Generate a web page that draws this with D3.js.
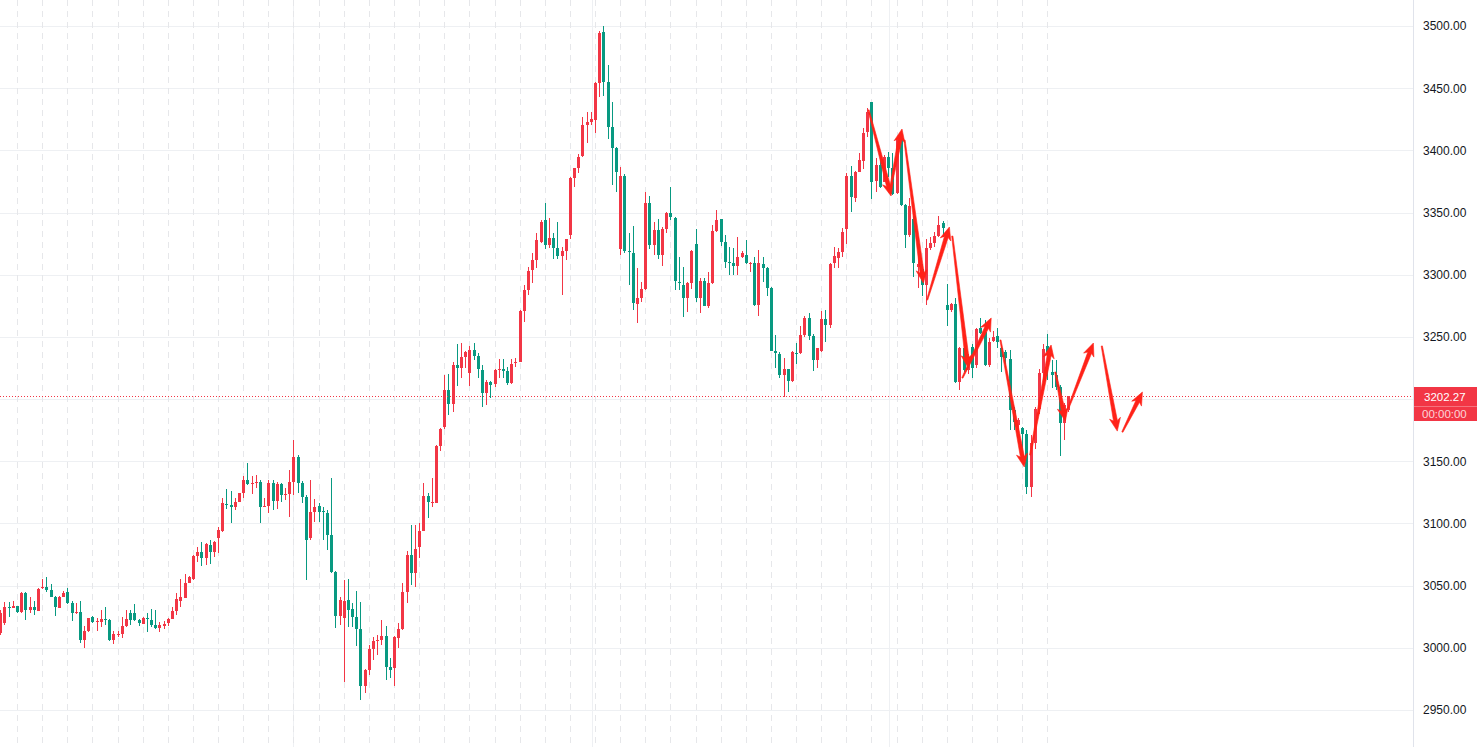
<!DOCTYPE html>
<html>
<head>
<meta charset="utf-8">
<script src="https://cdn.jsdelivr.net/npm/d3@7/dist/d3.min.js"></script>
<style>
  html, body { margin: 0; padding: 0; background: #ffffff; }
  svg { display: block; }
</style>
</head>
<body>
<svg id="chart" width="1478" height="747"></svg>
<script>
// ---------------- DATA ----------------
const open = [
3011.6,3019.7,3033.1,3032.3,3033.9,3029.1,3044.3,3030.4,3033.1,3029.9,
3047.8,3049.2,3046.5,3041.1,3032.3,3041.1,3045.1,3035.8,3028.3,3028.5,
3006.3,3013.5,3025.0,3021.6,3021.0,3023.2,3022.4,3006.3,3010.3,3011.1,
3017.8,3028.3,3028.3,3022.4,3019.1,3023.7,3022.4,3018.3,3015.7,3017.5,
3019.7,3023.2,3029.9,3038.0,3040.3,3052.4,3055.4,3073.9,3077.4,3072.5,
3082.7,3077.4,3088.1,3094.2,3115.6,3114.8,3113.5,3117.5,3124.8,3135.0,
3131.4,3132.3,3133.6,3113.5,3114.0,3132.8,3118.3,3131.5,3122.9,3123.4,
3133.6,3153.7,3132.3,3121.6,3088.1,3109.5,3114.0,3110.3,3108.7,3090.7,
3061.3,3025.9,3023.7,3038.5,3031.0,3025.1,3015.2,2969.4,2982.2,2999.1,
3005.9,3006.4,3009.8,2984.9,2984.1,3008.2,3015.2,3045.2,3074.7,3060.0,
3081.4,3094.3,3122.1,3116.7,3116.8,3162.3,3177.3,3207.4,3196.1,3227.5,
3224.8,3234.2,3220.8,3239.5,3235.0,3223.4,3204.7,3214.1,3212.2,3223.4,
3224.2,3222.9,3212.7,3228.8,3230.1,3271.0,3288.0,3303.8,3311.8,3326.6,
3344.0,3323.9,3329.3,3321.2,3315.0,3319.3,3332.0,3378.0,3385.5,3395.5,
3420.4,3423.0,3424.4,3453.9,3495.2,3455.2,3419.0,3402.2,3320.4,3379.6,
3319.3,3317.2,3276.5,3281.0,3288.3,3357.4,3323.9,3336.0,3315.9,3336.8,
3349.4,3345.3,3294.4,3291.7,3281.6,3293.1,3324.7,3281.6,3295.0,3274.9,
3293.1,3335.3,3344.5,3326.6,3310.5,3309.7,3307.3,3314.0,3315.9,3308.4,
3309.2,3275.7,3308.4,3305.7,3289.6,3238.7,3236.0,3219.4,3224.2,3214.6,
3237.3,3236.8,3251.5,3265.5,3251.0,3231.4,3238.7,3264.4,3259.6,3309.2,
3313.7,3318.0,3336.8,3379.4,3362.0,3382.9,3391.4,3414.5,3438.6,3375.4,
3388.2,3374.8,3394.9,3385.5,3365.4,3408.3,3356.0,3332.0,3345.0,3306.0,
3305.0,3291.8,3321.2,3325.3,3331.2,3341.3,3275.7,3271.7,3276.5,3214.0,
3240.8,3223.4,3242.2,3227.4,3256.9,3254.2,3227.4,3247.0,3250.8,3240.9,
3238.2,3232.0,3191.3,3179.2,3176.5,3172.0,3129.6,3164.5,3192.1,3220.8,
3242.7,3222.1,3219.4,3210.0,3181.1,3191.3
];
const high = [
3030.4,3037.1,3037.1,3037.6,3034.0,3044.9,3044.5,3041.1,3037.9,3048.0,
3055.6,3057.2,3051.3,3041.6,3041.7,3045.7,3047.8,3037.9,3035.8,3037.9,
3017.8,3024.2,3025.6,3023.7,3030.4,3033.1,3022.9,3013.8,3013.8,3025.0,
3030.4,3030.4,3035.2,3023.2,3025.0,3027.7,3030.9,3030.4,3021.0,3021.6,
3023.7,3033.1,3043.8,3055.0,3059.3,3057.7,3074.7,3081.4,3085.4,3084.0,
3086.7,3085.9,3097.4,3120.2,3127.5,3126.4,3120.2,3124.8,3138.2,3148.9,
3138.4,3139.0,3135.0,3120.2,3135.0,3135.0,3133.6,3132.3,3128.3,3143.0,
3167.1,3155.1,3134.2,3122.9,3135.0,3119.4,3116.2,3113.0,3110.8,3136.3,
3061.8,3041.2,3054.6,3055.3,3035.8,3045.5,3037.2,2982.6,3002.3,3009.0,
3010.4,3022.4,3017.9,2992.2,3009.6,3019.8,3051.9,3078.2,3098.8,3098.8,
3100.2,3132.3,3124.3,3136.3,3162.8,3176.5,3219.4,3220.0,3230.1,3244.3,
3244.9,3239.0,3242.7,3245.4,3236.8,3227.5,3215.4,3214.9,3224.0,3232.0,
3232.0,3225.6,3232.0,3232.8,3272.0,3292.0,3306.0,3317.2,3333.3,3344.0,
3357.9,3345.3,3333.3,3342.4,3322.6,3328.9,3378.5,3386.1,3396.8,3427.1,
3431.1,3431.1,3455.2,3496.2,3500.0,3468.6,3439.1,3403.0,3386.3,3380.7,
3333.3,3339.2,3305.1,3294.4,3366.8,3363.3,3342.7,3344.5,3338.6,3350.7,
3370.8,3346.1,3314.5,3305.9,3294.4,3319.9,3336.8,3297.1,3297.1,3301.9,
3340.0,3352.3,3345.0,3332.0,3322.6,3321.2,3330.1,3319.3,3327.9,3310.0,
3314.5,3319.9,3314.0,3306.5,3290.0,3251.5,3238.1,3232.8,3224.5,3238.7,
3244.8,3258.8,3266.8,3269.0,3252.0,3241.4,3270.8,3271.6,3309.2,3322.6,
3321.2,3337.8,3381.5,3387.7,3383.4,3397.6,3417.7,3434.3,3439.1,3393.6,
3394.9,3396.3,3398.9,3397.6,3411.0,3409.7,3356.5,3362.0,3347.0,3320.0,
3309.0,3329.0,3330.6,3334.6,3347.2,3343.5,3292.6,3277.0,3281.0,3242.2,
3242.2,3236.0,3244.0,3256.9,3265.0,3263.6,3248.9,3254.8,3256.9,3242.2,
3239.5,3239.5,3194.0,3184.6,3177.3,3175.2,3171.2,3194.0,3224.0,3244.0,
3252.4,3231.5,3231.5,3211.4,3196.6,3202.5
];
const low = [
3010.3,3018.3,3024.5,3032.0,3027.7,3027.7,3022.4,3027.7,3026.4,3029.5,
3047.0,3045.0,3040.6,3025.6,3031.8,3040.8,3035.2,3021.8,3027.2,3003.6,
2999.6,3013.0,3020.2,3013.8,3017.0,3018.3,3005.7,3003.1,3009.0,3007.6,
3017.0,3018.3,3021.6,3017.8,3019.0,3013.0,3017.0,3015.2,3012.4,3015.1,
3017.8,3023.0,3026.4,3033.0,3040.0,3051.8,3054.6,3069.3,3065.8,3066.6,
3067.4,3073.3,3076.5,3093.4,3111.4,3100.1,3110.8,3117.3,3120.2,3130.9,
3123.7,3128.3,3100.6,3113.0,3108.2,3110.8,3111.4,3117.5,3118.9,3105.5,
3122.9,3124.2,3116.7,3054.6,3086.7,3101.5,3101.5,3086.7,3078.7,3060.0,
3015.7,3018.4,2972.3,3017.0,3017.0,3001.5,2958.1,2963.5,2978.2,2990.3,
2994.3,3002.3,2974.2,2975.5,2969.4,3000.0,3014.4,3035.8,3050.6,3048.7,
3072.0,3094.0,3104.2,3113.6,3116.5,3158.6,3176.0,3187.3,3190.0,3210.6,
3217.3,3224.8,3210.6,3231.5,3216.7,3194.0,3195.3,3200.7,3210.0,3216.7,
3216.7,3211.4,3212.5,3226.1,3229.5,3262.0,3284.0,3293.1,3305.1,3325.8,
3320.4,3321.2,3312.4,3312.4,3283.7,3311.8,3328.5,3370.3,3382.1,3394.9,
3406.2,3420.4,3413.7,3443.2,3443.7,3409.1,3372.1,3366.8,3315.9,3317.2,
3291.7,3271.6,3260.9,3278.3,3287.7,3320.4,3315.9,3312.4,3307.3,3333.3,
3344.0,3287.7,3287.7,3266.3,3270.3,3288.3,3278.3,3268.9,3274.5,3273.0,
3292.8,3334.0,3323.4,3305.7,3299.8,3299.8,3299.8,3313.2,3308.6,3301.9,
3274.9,3267.1,3293.9,3283.2,3238.5,3224.7,3217.2,3202.0,3206.0,3214.0,
3228.0,3236.0,3250.2,3247.5,3222.6,3224.7,3238.1,3246.2,3257.5,3305.1,
3305.7,3314.0,3324.4,3350.7,3358.7,3382.3,3385.0,3411.0,3360.9,3366.8,
3370.0,3374.3,3378.8,3364.1,3364.6,3355.5,3321.2,3330.0,3298.5,3289.1,
3283.0,3275.7,3319.9,3322.6,3330.6,3330.1,3258.8,3270.3,3213.2,3207.3,
3222.0,3220.0,3216.7,3224.8,3252.5,3227.0,3225.6,3246.2,3240.8,3222.1,
3227.5,3175.2,3175.2,3173.8,3159.1,3123.7,3121.0,3160.0,3188.0,3215.0,
3215.4,3208.7,3207.4,3154.3,3167.2,3190.0
];
const close = [
3027.7,3033.1,3032.3,3033.9,3029.1,3044.3,3030.4,3033.1,3030.4,3047.3,
3049.2,3046.5,3041.1,3033.1,3041.1,3044.3,3035.8,3028.3,3029.1,3006.3,
3013.5,3023.7,3021.0,3021.9,3022.9,3022.9,3006.3,3011.1,3011.1,3017.8,
3023.2,3022.4,3022.4,3020.2,3024.2,3022.9,3018.3,3015.7,3018.3,3018.9,
3023.2,3029.9,3039.0,3041.0,3052.4,3056.7,3073.9,3077.4,3072.5,3083.5,
3077.4,3085.4,3094.8,3116.7,3114.8,3113.5,3117.5,3124.2,3135.0,3131.7,
3132.3,3133.6,3113.5,3114.0,3132.8,3118.3,3131.5,3122.9,3123.7,3133.6,
3153.7,3132.3,3121.6,3086.7,3109.5,3113.5,3109.5,3109.0,3090.7,3061.3,
3025.9,3038.5,3037.7,3030.4,3025.1,3015.5,2969.4,2982.2,2999.1,3005.6,
3006.4,3009.8,2984.9,2982.2,3008.5,3015.2,3045.2,3074.7,3060.5,3079.5,
3094.3,3122.1,3117.0,3117.5,3162.3,3176.0,3207.4,3196.1,3227.5,3224.8,
3234.2,3238.2,3239.5,3235.0,3224.0,3204.7,3214.1,3211.4,3223.4,3224.2,
3222.9,3212.7,3228.3,3230.1,3271.0,3288.0,3303.0,3311.8,3327.9,3342.7,
3323.9,3329.8,3321.2,3315.0,3319.1,3328.5,3378.0,3385.5,3394.9,3420.4,
3423.0,3425.2,3453.9,3494.6,3455.2,3419.0,3402.2,3382.9,3379.4,3319.3,
3318.3,3277.5,3281.0,3288.3,3357.4,3323.9,3336.0,3315.9,3336.8,3349.9,
3346.1,3295.2,3293.1,3281.6,3293.1,3319.3,3281.6,3295.0,3274.9,3293.1,
3335.4,3344.0,3326.6,3310.5,3309.2,3307.3,3314.0,3317.2,3309.2,3309.2,
3275.7,3309.2,3305.7,3289.1,3238.7,3236.8,3219.4,3224.2,3214.6,3238.1,
3236.5,3251.5,3265.5,3251.0,3231.4,3240.8,3264.4,3259.6,3308.6,3315.1,
3318.0,3334.6,3379.4,3362.8,3382.9,3392.2,3414.2,3431.1,3374.8,3388.2,
3370.8,3394.9,3385.5,3364.6,3409.7,3356.0,3332.0,3355.0,3309.2,3309.0,
3292.0,3321.2,3325.8,3331.2,3340.0,3337.3,3271.7,3276.5,3214.0,3240.8,
3223.4,3234.1,3224.8,3256.1,3252.9,3227.4,3246.2,3250.2,3245.7,3234.2,
3232.8,3191.3,3181.9,3183.2,3172.0,3129.6,3164.5,3192.1,3220.8,3240.0,
3238.2,3219.4,3210.0,3180.6,3195.3,3202.27
];

// price axis ticks (grid lines); labels hidden where the last-price tag sits
const priceTicks = [3500,3450,3400,3350,3300,3250,3200,3150,3100,3050,3000,2950];
// last price
const lastPrice = 3202.27;
const countdown = "00:00:00";
// session-break (dashed) and time-grid (solid) positions, in bar index units
const sessionBreaks = [4,10,16,22,28,34,40,46,52,58,64,70,76,82,88,94,100,106,112,118,124,130,136,142,148,154,160,166,172,178,184,190,196,202,208,214,220,226,232,238,244,250];
const timeGrid = [70, 141.3, 212.1];
// hand-drawn arrows: start (bar index, price) -> tip (bar index, price)
const arrowsStartIdx = [207.3, 212.3, 215.9, 221.3, 227.3, 229.7, 238.8, 245.9, 251.9, 255.0, 263.0, 267.9];
const arrowsStartPx  = [3432.5,3365.7,3408.3,3279.7,3331.1,3217.0,3247.5,3155.0,3221.8,3192.8,3242.7,3173.5];
const arrowsTipIdx   = [212.7, 215.3, 220.4, 226.6, 231.1, 236.6, 244.5, 250.9, 254.3, 261.0, 266.7, 272.7];
const arrowsTipPx    = [3363.3,3417.2,3293.3,3338.4,3225.0,3265.2,3145.4,3243.5,3182.4,3245.1,3174.3,3205.7];

// ---------------- LAYOUT ----------------
const W = 1478, H = 747;
const plotRight = 1413;
const UP = "#f23645", DOWN = "#089981";

const svg = d3.select("#chart");
svg.append("rect").attr("width", W).attr("height", H).attr("fill", "#ffffff");

const x = d3.scaleLinear().domain([0, open.length - 1]).range([0.3, 1068.3]);
const y = d3.scaleLinear().domain([2950, 3500]).range([710, 26]);

const plot = svg.append("g");
plot.append("clipPath").attr("id", "clip")
  .append("rect").attr("x", 0).attr("y", 0).attr("width", plotRight).attr("height", H);

// horizontal grid
plot.append("g").selectAll("line").data(priceTicks).join("line")
  .attr("x1", 0).attr("x2", plotRight)
  .attr("y1", d => Math.round(y(d)) + 0.5).attr("y2", d => Math.round(y(d)) + 0.5)
  .attr("stroke", "#eef0f3").attr("stroke-width", 1);

// solid time grid
plot.append("g").selectAll("line").data(timeGrid).join("line")
  .attr("x1", d => Math.round(x(d)) + 0.5).attr("x2", d => Math.round(x(d)) + 0.5)
  .attr("y1", 0).attr("y2", H)
  .attr("stroke", "#eef0f3").attr("stroke-width", 1);

// dashed session breaks
plot.append("g").selectAll("line").data(sessionBreaks).join("line")
  .attr("x1", d => Math.round(x(d)) + 0.5).attr("x2", d => Math.round(x(d)) + 0.5)
  .attr("y1", 0).attr("y2", H)
  .attr("stroke", "#e6e7ea").attr("stroke-width", 1)
  .attr("stroke-dasharray", "6,5");

// candles
const idx = d3.range(open.length);
const cg = plot.append("g").attr("clip-path", "url(#clip)").attr("shape-rendering", "crispEdges");
cg.selectAll("rect.wick").data(idx).join("rect")
  .attr("class", "wick")
  .attr("x", i => Math.round(x(i)))
  .attr("y", i => Math.round(y(Math.max(high[i], open[i], close[i]))))
  .attr("width", 1)
  .attr("height", i => Math.max(1, Math.round(y(Math.min(low[i], open[i], close[i]))) - Math.round(y(Math.max(high[i], open[i], close[i])))))
  .attr("fill", i => close[i] >= open[i] ? UP : DOWN);
cg.selectAll("rect.body").data(idx).join("rect")
  .attr("class", "body")
  .attr("x", i => Math.round(x(i)) - 1)
  .attr("y", i => Math.round(y(Math.max(open[i], close[i]))))
  .attr("width", 3)
  .attr("height", i => Math.max(1, Math.round(y(Math.min(open[i], close[i]))) - Math.round(y(Math.max(open[i], close[i])))))
  .attr("fill", i => close[i] >= open[i] ? UP : DOWN);

// last price dotted line
const lastY = Math.round(y(lastPrice)) + 0.5;
plot.append("line")
  .attr("x1", 0).attr("x2", plotRight).attr("y1", lastY).attr("y2", lastY)
  .attr("stroke", UP).attr("stroke-width", 1).attr("stroke-dasharray", "1,2");

// arrows
function arrowPath(sx, sy, tx, ty) {
  const dx = tx - sx, dy = ty - sy, L = Math.hypot(dx, dy);
  const ux = dx / L, uy = dy / L, nx = -uy, ny = ux;
  const hl = 13, hw = 5.5, s0 = 0.6, s1 = 2.0;
  const bx = tx - ux * hl, by = ty - uy * hl;
  const nbx = tx - ux * (hl - 2.5), nby = ty - uy * (hl - 2.5);
  const p = [
    [sx + nx * s0, sy + ny * s0],
    [nbx + nx * s1, nby + ny * s1],
    [bx + nx * hw, by + ny * hw],
    [tx, ty],
    [bx - nx * hw, by - ny * hw],
    [nbx - nx * s1, nby - ny * s1],
    [sx - nx * s0, sy - ny * s0]
  ];
  return "M" + p.map(q => q[0].toFixed(1) + "," + q[1].toFixed(1)).join("L") + "Z";
}
plot.append("g").selectAll("path").data(d3.range(arrowsStartIdx.length)).join("path")
  .attr("d", k => arrowPath(x(arrowsStartIdx[k]), y(arrowsStartPx[k]), x(arrowsTipIdx[k]), y(arrowsTipPx[k])))
  .attr("fill", "#ff2218").attr("stroke", "#ff2218").attr("stroke-width", 0.6)
  .attr("stroke-linejoin", "round");

// price axis
svg.append("line")
  .attr("x1", plotRight + 0.5).attr("x2", plotRight + 0.5).attr("y1", 0).attr("y2", H)
  .attr("stroke", "#e0e3eb").attr("stroke-width", 1);

// labels that would sit under the last-price tag are hidden (as the reference does)
const labelTicks = priceTicks.filter(t => Math.abs(y(t) - y(lastPrice)) > 22);
const axis = d3.axisRight(y).tickValues(labelTicks).tickFormat(d3.format(".2f"))
  .tickSize(0).tickPadding(10);
const ag = svg.append("g").attr("transform", `translate(${plotRight},0)`).call(axis);
ag.select(".domain").remove();
ag.selectAll("text")
  .attr("fill", "#131722")
  .style("font-family", "'Liberation Sans', Arial, sans-serif")
  .style("font-size", "12px");

// last price label (two rows: price, countdown)
const lbl = svg.append("g");
const labelTop = Math.round(y(lastPrice)) - 9;
lbl.append("rect").attr("x", plotRight + 0.5).attr("y", labelTop).attr("width", W - plotRight - 1.5).attr("height", 34)
  .attr("fill", UP).attr("shape-rendering", "crispEdges");
lbl.append("line").attr("x1", plotRight + 1).attr("x2", W - 1).attr("y1", labelTop + 19.5).attr("y2", labelTop + 19.5)
  .attr("stroke", "rgba(255,255,255,0.3)").attr("stroke-width", 1);
lbl.append("text").attr("x", plotRight + 11).attr("y", labelTop + 14)
  .attr("fill", "#ffffff")
  .style("font-family", "'Liberation Sans', Arial, sans-serif").style("font-size", "11.5px")
  .text(d3.format(".2f")(lastPrice));
lbl.append("text").attr("x", plotRight + 9).attr("y", labelTop + 31)
  .attr("fill", "rgba(255,255,255,0.8)")
  .style("font-family", "'Liberation Sans', Arial, sans-serif").style("font-size", "11.5px")
  .text(countdown);
</script>
</body>
</html>
